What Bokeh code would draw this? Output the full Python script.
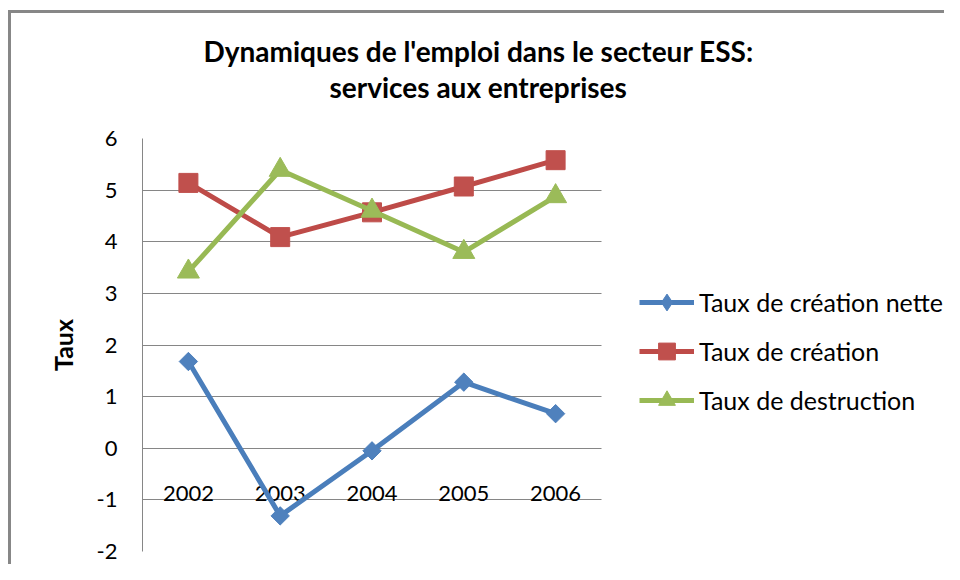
import numpy as np
from bokeh.plotting import figure
from bokeh.models import (Range1d, FixedTicker, Legend, LegendItem, Title,
                          PrintfTickFormatter, Grid, InlineStyleSheet)
from bokeh.core.properties import value
from bokeh.embed import file_html
from bokeh.resources import INLINE

# ---- data ----
years = ["2002", "2003", "2004", "2005", "2006"]
nette = [1.68, -1.31, -0.05, 1.28, 0.67]
creation = [5.14, 4.09, 4.57, 5.07, 5.58]
destruction = [3.42, 5.39, 4.60, 3.80, 4.88]
y_ticks = [-2, -1, 0, 1, 2, 3, 4, 5, 6]
title_lines = ["Dynamiques de l'emploi dans le secteur ESS:", "services aux entreprises"]
series_names = ["Taux de création nette", "Taux de création", "Taux de destruction"]
y_label = "Taux"

FONT = "Lato"
GRID = "#868686"
BORDER = "#878787"

W, H = 944, 564
LEFT, TOP, BOTTOM = 142, 138, 13
PLOT_W = 459                      # width of the category area
N = len(years)
xpos = [i + 0.5 for i in range(N)]          # category centres
x_end = N * (W - LEFT) / PLOT_W             # frame extends under the legend

p = figure(width=W, height=H,
           x_range=Range1d(0, x_end), y_range=Range1d(-2, 6),
           output_backend="svg", toolbar_location=None, x_axis_location=None,
           min_border_left=LEFT, min_border_right=0,
           min_border_top=TOP, min_border_bottom=BOTTOM)
p.outline_line_color = None
p.background_fill_color = "white"
p.border_fill_color = "white"

# outer chart border (left and top edges of the chart area)
p.stylesheets = [InlineStyleSheet(css=f"""
:host {{ position: relative; }}
:host::after {{
  content: ""; position: absolute; left: 8px; top: 10px; right: 0; bottom: 0;
  border-left: 3px solid {BORDER}; border-top: 3px solid {BORDER};
  pointer-events: none; z-index: 100;
}}
""")]

# y axis
yax = p.yaxis[0]
yax.ticker = FixedTicker(ticks=y_ticks)
yax.formatter = PrintfTickFormatter(format="%d")
yax.axis_line_color = GRID
yax.axis_line_width = 1
yax.major_tick_line_color = None
yax.minor_tick_line_color = None
yax.major_tick_out = 0
yax.major_tick_in = 0
yax.major_label_standoff = 25
yax.major_label_text_font = FONT
yax.major_label_text_font_size = "22px"
yax.major_label_text_color = "black"
yax.axis_label = y_label
yax.axis_label_text_font = FONT
yax.axis_label_text_font_style = "bold"
yax.axis_label_text_font_size = "25px"
yax.axis_label_text_color = "black"
yax.axis_label_standoff = 16

p.xgrid.grid_line_color = None
yg = p.ygrid[0]
yg.grid_line_color = GRID
yg.grid_line_width = 1
if "cross_bounds" in Grid.properties():
    yg.cross_bounds = (0, N)

# category labels next to the horizontal axis at y = 0
p.text(x=xpos, y=[0] * N, text=years, text_align="center",
       text_baseline="middle", y_offset=45, text_font=value(FONT),
       text_font_size="22px", text_color="black")

line_colors = ["#4A7EBB", "#BE4B48", "#98B954"]
fill_colors = ["#4F81BD", "#C0504D", "#9BBB59"]
markers = ["square", "square", "triangle"]
legend_markers = ["diamond", "square", "triangle"]
sizes = [13, 19, 22]
angles = [np.pi / 4, 0, 0]
series = [nette, creation, destruction]

items = []
for name, vals, lc, fc, mk, lmk, sz, ang in zip(series_names, series, line_colors,
                                                fill_colors, markers, legend_markers,
                                                sizes, angles):
    l = p.line(xpos, vals, line_color=lc, line_width=5)
    if lmk != mk:
        # slim diamond used for the legend; hidden under the plot marker
        leg = p.scatter(xpos, vals, marker=lmk, size=17,
                        fill_color=fc, line_color=fc)
    s = p.scatter(xpos, vals, marker=mk, size=sz, angle=ang,
                  fill_color=fc, line_color=fc)
    if lmk == mk:
        leg = s
    items.append(LegendItem(label=name, renderers=[l, leg]))

legend = Legend(items=items, location=(497, 130), orientation="vertical",
                glyph_width=55, glyph_height=42, label_height=42, spacing=7,
                padding=0, margin=0, label_standoff=5,
                border_line_color=None, background_fill_alpha=0,
                label_text_font=FONT, label_text_font_size="25px",
                label_text_color="black")
p.add_layout(legend, "center")

# spacer, then title lines (added nearest the plot first)
p.add_layout(Title(text=" ", standoff=0, text_font=FONT,
                   text_font_size="27px"), "above")
offsets = [61, 187]
for txt, off in reversed(list(zip(title_lines, offsets))):
    p.add_layout(Title(text=txt, align="left", offset=off, standoff=0,
                       text_font=FONT, text_font_style="bold",
                       text_font_size="28px", text_color="black"), "above")

open("out.html", "w").write(file_html(p, INLINE))
